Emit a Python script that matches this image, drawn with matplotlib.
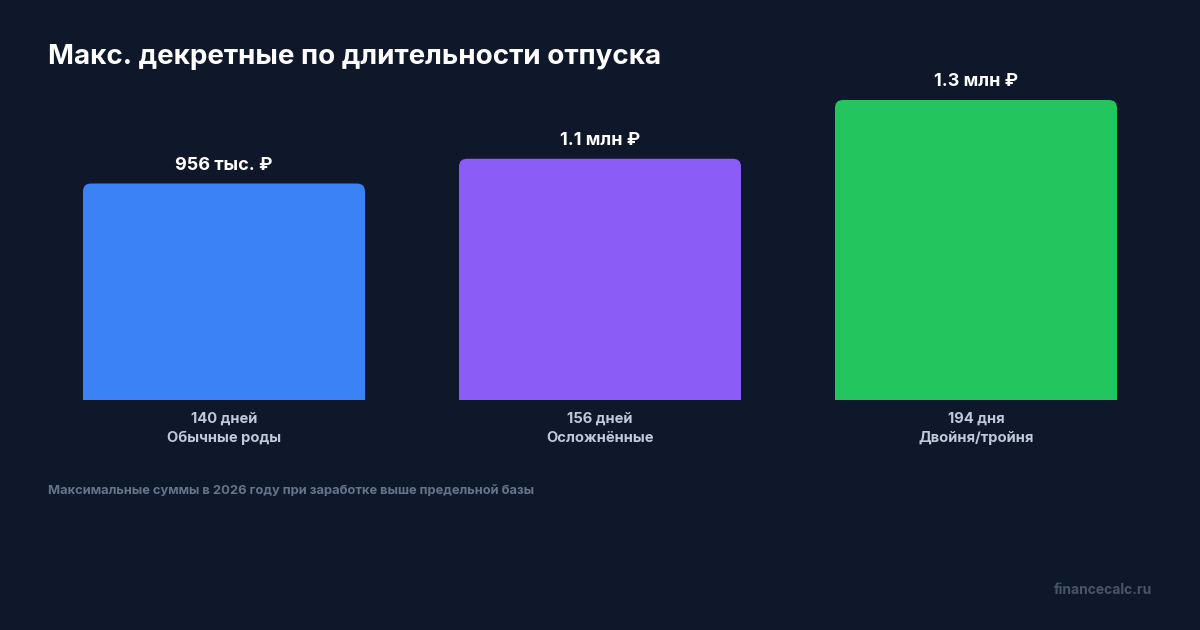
import matplotlib.pyplot as plt
from matplotlib.patches import FancyBboxPatch, Rectangle

# Data
days = ["140 дней", "156 дней", "194 дня"]
categories = ["Обычные роды", "Осложнённые", "Двойня/тройня"]
values = [955836, 1065074, 1324516]
value_labels = ["956 тыс. ₽", "1.1 млн ₽", "1.3 млн ₽"]
colors = ["#3b82f6", "#8b5cf6", "#22c55e"]

BG = "#0f172a"
FONT = ["Inter", "DejaVu Sans"]
plt.rcParams["font.family"] = FONT

W, H = 1200, 630
fig = plt.figure(figsize=(W / 100, H / 100), dpi=100, facecolor=BG)

# axes placed in pixel terms: bars centered at 224, 600, 976, baseline at y=400
step = 376
left_px = 224 - step / 2
base_px = 400
top_px = 60
ax = fig.add_axes([left_px / W, 1 - base_px / H, 3 * step / W, (base_px - top_px) / H])
ax.set_facecolor(BG)
ax.axis("off")

px_per_val = 300 / max(values)
ymax = (base_px - top_px) / px_per_val
ax.set_xlim(-0.5, 2.5)
ax.set_ylim(0, ymax)

bar_w = 282 / step
radius_x = 8 / step
aspect = (1 / px_per_val) / (1 / step)

for i, (v, c) in enumerate(zip(values, colors)):
    x0 = i - bar_w / 2
    ax.add_patch(FancyBboxPatch((x0, 0), bar_w, v,
                                boxstyle=f"round,pad=0,rounding_size={radius_x}",
                                mutation_aspect=aspect, fc=c, ec="none"))
    ax.add_patch(Rectangle((x0, 0), bar_w, v / 2, fc=c, ec="none"))
    ax.annotate(value_labels[i], (i, v), xytext=(0, 10), textcoords="offset pixels",
                ha="center", va="bottom", color="white", fontsize=13, fontweight="bold")
    ax.annotate(days[i], (i, 0), xytext=(0, -19), textcoords="offset pixels",
                ha="center", va="center", color="#c0c9d6", fontsize=10.6, fontweight="bold")
    ax.annotate(categories[i], (i, 0), xytext=(0, -38), textcoords="offset pixels",
                ha="center", va="center", color="#c0c9d6", fontsize=10.6, fontweight="bold")

fig.text(48 / W, 1 - 57 / H, "Макс. декретные по длительности отпуска",
         ha="left", va="center", color="white", fontsize=20, fontweight="bold")
fig.text(48 / W, 1 - 491 / H, "Максимальные суммы в 2026 году при заработке выше предельной базы",
         ha="left", va="center", color="#64748b", fontsize=9.3, fontweight="bold")
fig.text(1152 / W, 1 - 590 / H, "financecalc.ru",
         ha="right", va="center", color="#475569", fontsize=10, fontweight="bold")

fig.savefig("out.png", dpi=100, facecolor=BG)
